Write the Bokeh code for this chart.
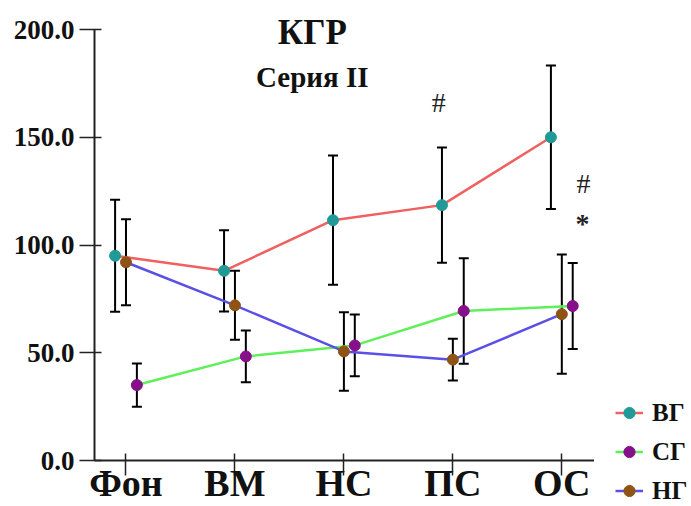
from bokeh.plotting import figure
from bokeh.layouts import row, column
from bokeh.models import (ColumnDataSource, Whisker, TeeHead, Label, FixedTicker,
                          Legend, LegendItem)
from bokeh.embed import file_html
from bokeh.resources import INLINE

# Stages of the experiment
categories = ["Фон", "ВМ", "НС", "ПС", "ОС"]

# Group means and error values (КГР, series II)
vg_mean = [95.0, 88.0, 111.5, 118.5, 150.0]
vg_err = [26.0, 18.8, 30.0, 26.7, 33.3]

sg_mean = [35.0, 48.3, 53.4, 69.4, 71.7]
sg_err = [10.0, 12.0, 14.3, 24.5, 20.0]

ng_mean = [92.0, 72.0, 50.6, 46.8, 67.9]
ng_err = [20.0, 16.0, 18.2, 9.7, 27.7]

y_ticks = [0, 50, 100, 150, 200]

SERIF = "Liberation Serif"

# (name, means, errors, x shift, line colour, marker colour)
groups = [
    ("ВГ", vg_mean, vg_err, -0.1, "#f06060", "#1f9a96"),
    ("СГ", sg_mean, sg_err, 0.1, "#5ef05a", "#85108a"),
    ("НГ", ng_mean, ng_err, 0.0, "#5a50e6", "#8e5416"),
]

# Frame reaches near the top edge so the heading fits inside it;
# the y axis itself stops at 200.
p = figure(width=594, height=506, output_backend="svg", toolbar_location=None,
           title=None,
           x_range=(-0.289, 4.30), y_range=(0, 211.14),
           min_border_left=94, min_border_right=0,
           min_border_top=5, min_border_bottom=46)
p.outline_line_color = None
p.xgrid.visible = False
p.ygrid.visible = False


def series(means, errs, shift):
    xs = [i + shift for i in range(len(means))]
    return ColumnDataSource(dict(
        x=xs, y=means,
        upper=[m + e for m, e in zip(means, errs)],
        lower=[m - e for m, e in zip(means, errs)],
    ))


sources = {name: series(m, e, s) for name, m, e, s, _, _ in groups}

for name, _, _, _, lc, mc in groups:
    p.line("x", "y", source=sources[name], line_color=lc, line_width=2.5)

for name, _, _, _, lc, mc in groups:
    p.add_layout(Whisker(base="x", upper="upper", lower="lower", source=sources[name],
                         line_color="black", line_width=2,
                         upper_head=TeeHead(size=10, line_color="black", line_width=2),
                         lower_head=TeeHead(size=10, line_color="black", line_width=2)))

for name, _, _, _, lc, mc in groups:
    p.scatter("x", "y", source=sources[name], size=11, fill_color=mc, line_color=mc)

# Axes
p.xaxis.ticker = FixedTicker(ticks=list(range(len(categories))))
p.xaxis.major_label_overrides = {i: c for i, c in enumerate(categories)}
p.yaxis.ticker = FixedTicker(ticks=y_ticks)
p.yaxis.major_label_overrides = {t: f"{t:.1f}" for t in y_ticks}
p.yaxis.bounds = (0, 200)
p.xaxis.minor_tick_line_color = None
p.yaxis.minor_tick_line_color = None
for ax in (p.xaxis, p.yaxis):
    ax.axis_line_color = "#222222"
    ax.axis_line_width = 2
    ax.major_tick_line_color = "#222222"
    ax.major_tick_line_width = 1.5
    ax.major_tick_in = 7
    ax.major_tick_out = 15
    ax.major_label_text_font = SERIF
    ax.major_label_text_font_style = "bold"
    ax.major_label_text_color = "#111111"
p.yaxis.major_label_text_font_size = "27px"
p.yaxis.major_label_standoff = 5
p.xaxis.major_label_text_font_size = "38px"
p.xaxis.major_label_standoff = -14

# Titles
p.add_layout(Label(x=1.71, y=198.5, text="КГР", text_align="center",
                   text_baseline="middle", text_font=SERIF,
                   text_font_style="bold", text_font_size="35px",
                   text_color="#111111"))
p.add_layout(Label(x=1.71, y=178.0, text="Серия II", text_align="center",
                   text_baseline="middle", text_font=SERIF,
                   text_font_style="bold", text_font_size="29px",
                   text_color="#111111"))

# Significance marks
for x, y, t, st in [(2.87, 166.0, "#", "normal"), (4.20, 128.5, "#", "normal"),
                    (4.19, 110.0, "*", "bold")]:
    p.add_layout(Label(x=x, y=y, text=t, text_align="center",
                       text_baseline="middle", text_font=SERIF, text_font_style=st,
                       text_font_size="28px", text_color="#222222"))

# Legend strip to the right of the chart; its glyphs share the chart's
# sources but sit outside this strip's ranges, so only the legend shows.
leg = figure(width=97, height=506, output_backend="svg", toolbar_location=None,
             x_range=(0, 1), y_range=(0, 1), min_border=0,
             x_axis_type=None, y_axis_type=None)
leg.outline_line_color = None

items = []
for name, _, _, _, lc, mc in groups:
    r_line = leg.line("x", "y", source=sources[name], line_color=lc, line_width=2.5)
    r_dot = leg.scatter("x", "y", source=sources[name], size=11,
                        fill_color=mc, line_color=mc)
    items.append(LegendItem(label=name, renderers=[r_line, r_dot]))

legend = Legend(items=items, location=(21, -1), orientation="vertical",
                padding=0, margin=0, spacing=6,
                glyph_width=28, glyph_height=33, label_height=33,
                label_standoff=9, border_line_alpha=0, background_fill_alpha=0,
                label_text_font=SERIF, label_text_font_style="bold",
                label_text_font_size="25px", label_text_color="#111111")
leg.add_layout(legend)

layout = row(p, column(leg), spacing=0)

open("out.html", "w").write(file_html(layout, INLINE))
